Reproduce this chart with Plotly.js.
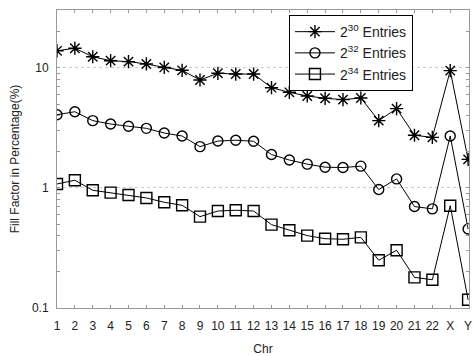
<!DOCTYPE html>
<html>
<head>
<meta charset="utf-8">
<script src="https://cdn.plot.ly/plotly-3.0.1.min.js"></script>
<style>html,body{margin:0;padding:0;background:#fff}#chart{width:474px;height:356px}</style>
</head>
<body>
<div id="chart"></div>
<script>
const categories = ["1","2","3","4","5","6","7","8","9","10","11","12","13","14","15","16","17","18","19","20","21","22","X","Y"];
const seriesNames = ["2<sup>30</sup> Entries", "2<sup>32</sup> Entries", "2<sup>34</sup> Entries"];
const entries30 = [13.9,14.6,12.4,11.5,11.3,10.8,10.1,9.56,7.94,9.03,8.9,8.9,6.85,6.27,5.84,5.59,5.45,5.62,3.64,4.58,2.75,2.64,9.5,1.73];
const entries32 = [4.08,4.32,3.64,3.41,3.27,3.14,2.87,2.71,2.21,2.46,2.5,2.45,1.90,1.71,1.58,1.49,1.48,1.52,0.97,1.19,0.70,0.67,2.71,0.455];
const entries34 = [1.08,1.16,0.957,0.914,0.874,0.826,0.760,0.717,0.577,0.643,0.652,0.643,0.495,0.444,0.401,0.378,0.374,0.388,0.250,0.303,0.180,0.172,0.712,0.117];
const yTickVals = [0.1, 1, 10];
const yTickText = ["0.1", "1", "10"];
const yMinorVals = [0.2,0.3,0.4,0.5,0.6,0.7,0.8,0.9,2,3,4,5,6,7,8,9,20,30];

const FONT = "Liberation Sans, Arial, sans-serif";
const symbols = ["asterisk-open", "circle-open", "square-open"];
const sizes = [11, 10, 11];
const data = [entries30, entries32, entries34].map((vals, i) => ({
  x: categories, y: vals, type: "scatter", mode: "lines+markers",
  name: seriesNames[i],
  line: {color: "#000", width: 1},
  marker: {symbol: symbols[i], size: sizes[i], color: "#000", line: {color: "#000", width: 1.4}}
}));

const axisCommon = {
  showline: true, linecolor: "#999", linewidth: 1, mirror: "ticks",
  ticks: "inside", ticklen: 3, tickcolor: "#999",
  tickfont: {family: FONT, size: 12, color: "#222"},
  zeroline: false
};

const layout = {
  width: 474, height: 356,
  margin: {l: 57, r: 5, t: 10, b: 48},
  paper_bgcolor: "#fff", plot_bgcolor: "#fff",
  font: {family: FONT, color: "#222"},
  showlegend: true,
  legend: {
    x: 0.563, y: 0.983, xanchor: "left", yanchor: "top",
    bordercolor: "#000", borderwidth: 1, bgcolor: "#fff",
    font: {family: FONT, size: 14, color: "#222"},
    tracegroupgap: 0, itemwidth: 40
  },
  xaxis: Object.assign({}, axisCommon, {
    type: "category", range: [0, 23.05], showgrid: false,
    tickmode: "array", tickvals: categories, ticktext: categories,
    ticklabelstandoff: 7,
    title: {text: "Chr", standoff: 14, font: {family: FONT, size: 12, color: "#222"}}
  }),
  yaxis: Object.assign({}, axisCommon, {
    type: "log", range: [-1, 1.483],
    tickmode: "array", tickvals: yTickVals, ticktext: yTickText,
    ticklabelstandoff: 5,
    showgrid: true, gridcolor: "#ccc", griddash: "dot", gridwidth: 1,
    minor: {tickmode: "array", tickvals: yMinorVals, ticks: "inside", ticklen: 3, tickcolor: "#999", showgrid: false},
    title: {text: "Fill Factor in Percentage(%)", standoff: 9, font: {family: FONT, size: 12, color: "#222"}}
  })
};

Plotly.newPlot("chart", data, layout, {displayModeBar: false, staticPlot: true});
</script>
</body>
</html>
